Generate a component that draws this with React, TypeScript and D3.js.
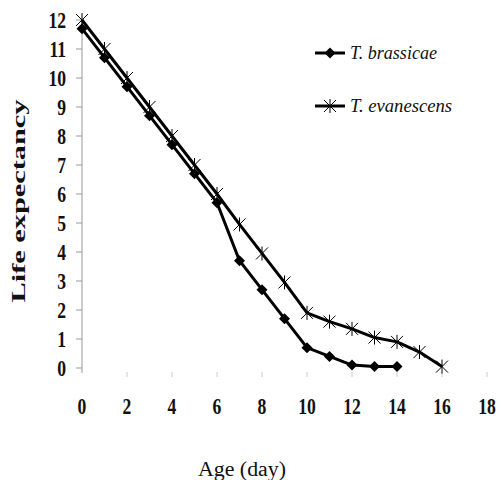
import React from 'react';
import * as d3 from 'd3';

// ages in days
const ages = [0, 1, 2, 3, 4, 5, 6, 7, 8, 9, 10, 11, 12, 13, 14, 15, 16];
// life expectancy per series
const brassicae = [11.7, 10.7, 9.7, 8.7, 7.7, 6.7, 5.7, 3.7, 2.7, 1.7, 0.7, 0.4, 0.1, 0.05, 0.05];
const evanescens = [12, 11, 10, 9, 8, 7, 6, 4.95, 3.95, 2.95, 1.9, 1.6, 1.35, 1.05, 0.9, 0.55, 0.05];
const xTicks = [0, 2, 4, 6, 8, 10, 12, 14, 16, 18];
const yTicks = [0, 1, 2, 3, 4, 5, 6, 7, 8, 9, 10, 11, 12];
const seriesNames = ['T. brassicae', 'T. evanescens'];

const W = 498;
const H = 480;
const serif = 'Liberation Serif, Times New Roman, Tinos, serif';

const App: React.FC = () => {
  const x = d3.scaleLinear().domain([0, 18]).range([82, 487]);
  const y = d3.scaleLinear().domain([0, 12]).range([368, 20]);

  const line = d3
    .line<[number, number]>()
    .x((d) => x(d[0]))
    .y((d) => y(d[1]));

  const bPts: [number, number][] = brassicae.map((v, i) => [ages[i], v]);
  const ePts: [number, number][] = evanescens.map((v, i) => [ages[i], v]);

  const diamond = (cx: number, cy: number, r = 5.5) =>
    `M${cx},${cy - r}L${cx + r},${cy}L${cx},${cy + r}L${cx - r},${cy}Z`;
  const star = (cx: number, cy: number, r = 6) =>
    `M${cx - r},${cy - r}L${cx + r},${cy + r}M${cx - r},${cy + r}L${cx + r},${cy - r}M${cx},${cy - r - 1}L${cx},${cy + r + 1}`;

  return (
    <svg
      width={W}
      height={H}
      style={{ position: 'absolute', left: 0, top: 0, background: '#fff' }}
    >
      {/* y axis */}
      <line x1={x(0)} x2={x(0)} y1={y(12)} y2={373} stroke="#999" strokeWidth={1} />
      {yTicks.map((t) => (
        <g key={'y' + t}>
          <line x1={x(0) - 6} x2={x(0)} y1={y(t)} y2={y(t)} stroke="#999" strokeWidth={1} />
          <text
            transform={`translate(66,${y(t) + 8}) scale(0.8,1.05)`}
            textAnchor="end"
            fontFamily={serif}
            fontWeight="bold"
            fontSize={22}
            fill="#111"
          >
            {t}
          </text>
        </g>
      ))}

      {/* x ticks */}
      {xTicks.map((t) => (
        <g key={'x' + t}>
          {t > 0 && (
            <line x1={x(t)} x2={x(t)} y1={372} y2={377} stroke="#ccc" strokeWidth={1} />
          )}
          <text
            transform={`translate(${x(t)},414) scale(0.8,1.05)`}
            textAnchor="middle"
            fontFamily={serif}
            fontWeight="bold"
            fontSize={22}
            fill="#111"
          >
            {t}
          </text>
        </g>
      ))}

      {/* axis titles */}
      <text
        transform="translate(25,201) rotate(-90)"
        textAnchor="middle"
        fontFamily={serif}
        fontWeight="bold"
        fontSize={18}
        textLength={203}
        lengthAdjust="spacingAndGlyphs"
        fill="#111"
      >
        Life expectancy
      </text>
      <text
        x={242}
        y={476}
        textAnchor="middle"
        fontFamily={serif}
        fontSize={20}
        textLength={88}
        lengthAdjust="spacingAndGlyphs"
        fill="#111"
      >
        Age (day)
      </text>

      {/* series lines */}
      <path d={line(ePts) || ''} fill="none" stroke="#000" strokeWidth={3} strokeLinejoin="round" />
      <path d={line(bPts) || ''} fill="none" stroke="#000" strokeWidth={3} strokeLinejoin="round" />
      {ePts.map((d, i) => (
        <path key={'e' + i} d={star(x(d[0]), y(d[1]))} stroke="#000" strokeWidth={1} fill="none" />
      ))}
      {bPts.map((d, i) => (
        <path key={'b' + i} d={diamond(x(d[0]), y(d[1]))} fill="#000" />
      ))}

      {/* legend */}
      <line x1={315} x2={345} y1={53} y2={53} stroke="#000" strokeWidth={3} />
      <path d={diamond(330, 53)} fill="#000" />
      <text
        x={350}
        y={59}
        fontFamily={serif}
        fontStyle="italic"
        fontSize={18}
        textLength={87}
        lengthAdjust="spacingAndGlyphs"
        fill="#111"
      >
        {seriesNames[0]}
      </text>
      <line x1={315} x2={345} y1={106} y2={106} stroke="#000" strokeWidth={3} />
      <path d={star(330, 106)} stroke="#000" strokeWidth={1} fill="none" />
      <text
        x={350}
        y={112}
        fontFamily={serif}
        fontStyle="italic"
        fontSize={18}
        textLength={102}
        lengthAdjust="spacingAndGlyphs"
        fill="#111"
      >
        {seriesNames[1]}
      </text>
    </svg>
  );
};

export default App;
